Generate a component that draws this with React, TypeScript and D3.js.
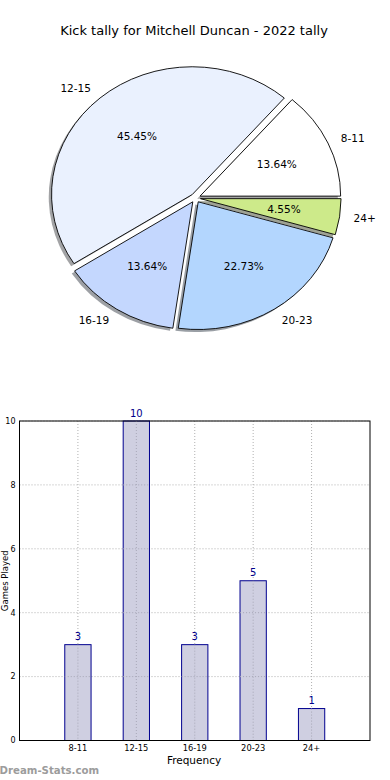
import { useEffect, useRef } from "react";
import * as d3 from "d3";

const categories = ["8-11", "12-15", "16-19", "20-23", "24+"];
const counts = [3, 10, 3, 5, 1];
const pieColors = ["#ffffff", "#eaf1fe", "#c4d7fe", "#b3d6fe", "#cdea8a"];
const yTicks = [0, 2, 4, 6, 8, 10];

const W = 390;
const H = 780;
const font = "DejaVu Sans, sans-serif";

function App() {
  const svgRef = useRef<SVGSVGElement>(null);

  useEffect(() => {
    const svg = d3.select(svgRef.current);
    svg.selectAll("*").remove();

    svg
      .append("text")
      .attr("x", 194)
      .attr("y", 34.5)
      .attr("text-anchor", "middle")
      .style("font", `13px ${font}`)
      .text("Kick tally for Mitchell Duncan - 2022 tally");

    // pie (elliptical, like an old matplotlib pie without equal aspect)
    const cx = 195.5;
    const cy = 198;
    const rx = 140.6;
    const ry = 127.7;
    const explode = 0.0356;
    const total = d3.sum(counts);

    const pie = d3
      .pie<number>()
      .sort(null)
      .startAngle(Math.PI / 2)
      .endAngle(Math.PI / 2 - 2 * Math.PI);
    const arcs = pie(counts);
    const arc = d3.arc<d3.PieArcDatum<number>>().innerRadius(0).outerRadius(1);

    const slices = arcs.map((d, i) => {
      const mid = (d.startAngle + d.endAngle) / 2;
      const ux = Math.sin(mid);
      const uy = -Math.cos(mid);
      return { d, i, ux, uy, ox: explode * ux, oy: explode * uy };
    });

    const gPie = svg.append("g").attr("transform", `translate(${cx},${cy}) scale(${rx},${ry})`);

    // shadows first
    gPie
      .selectAll("path.shadow")
      .data(slices)
      .join("path")
      .attr("class", "shadow")
      .attr("transform", (s) => `translate(${s.ox - 0.02},${s.oy + 0.02})`)
      .attr("d", (s) => arc(s.d))
      .attr("fill", (s) => {
        const c = d3.rgb(pieColors[s.i]);
        return d3.rgb(c.r * 0.3, c.g * 0.3, c.b * 0.3).toString();
      })
      .attr("fill-opacity", 0.5);

    gPie
      .selectAll("path.wedge")
      .data(slices)
      .join("path")
      .attr("class", "wedge")
      .attr("transform", (s) => `translate(${s.ox},${s.oy})`)
      .attr("d", (s) => arc(s.d))
      .attr("fill", (s) => pieColors[s.i])
      .attr("stroke", "#000")
      .attr("stroke-width", 0.9)
      .attr("vector-effect", "non-scaling-stroke");

    slices.forEach((s) => {
      const px = cx + rx * s.ox;
      const py = cy + ry * s.oy;
      svg
        .append("text")
        .attr("x", px + 1.1 * rx * s.ux)
        .attr("y", py + 1.1 * ry * s.uy)
        .attr("dy", "0.36em")
        .attr("text-anchor", s.ux > 0 ? "start" : "end")
        .style("font", `10.5px ${font}`)
        .text(categories[s.i]);
      svg
        .append("text")
        .attr("x", px + 0.6 * rx * s.ux)
        .attr("y", py + 0.6 * ry * s.uy)
        .attr("dy", "0.36em")
        .attr("text-anchor", "middle")
        .style("font", `10.5px ${font}`)
        .text(((counts[s.i] / total) * 100).toFixed(2) + "%");
    });

    // bar chart
    const left = 19.5;
    const right = 370;
    const top = 421;
    const bottom = 740.5;
    const x = d3.scaleLinear().domain([0, 6]).range([left, right]);
    const y = d3.scaleLinear().domain([0, 10]).range([bottom, top]);
    const barW = 0.45;

    const grid = svg.append("g").attr("stroke", "#b0b0b0").attr("stroke-dasharray", "1,2");
    yTicks.forEach((t) => {
      grid.append("line").attr("x1", left).attr("x2", right).attr("y1", y(t)).attr("y2", y(t));
    });
    categories.forEach((c, i) => {
      grid.append("line").attr("x1", x(i + 1)).attr("x2", x(i + 1)).attr("y1", top).attr("y2", bottom);
    });

    svg
      .append("g")
      .selectAll("rect")
      .data(counts)
      .join("rect")
      .attr("x", (v, i) => x(i + 1 - barW / 2))
      .attr("width", x(barW) - x(0))
      .attr("y", (v) => y(v))
      .attr("height", (v) => y(0) - y(v))
      .attr("fill", "#ccccdf")
      .attr("fill-opacity", 0.95)
      .attr("stroke", "#00008f")
      .attr("stroke-width", 1);

    // grid shows through the bars
    const grid2 = svg.append("g").attr("stroke", "#a8a8b8").attr("stroke-dasharray", "1,2");
    categories.forEach((c, i) => {
      grid2.append("line").attr("x1", x(i + 1)).attr("x2", x(i + 1)).attr("y1", y(counts[i])).attr("y2", bottom);
    });
    yTicks.forEach((t) => {
      counts.forEach((v, i) => {
        if (t > 0 && t < v) {
          grid2
            .append("line")
            .attr("x1", x(i + 1 - barW / 2))
            .attr("x2", x(i + 1 + barW / 2))
            .attr("y1", y(t))
            .attr("y2", y(t));
        }
      });
    });

    svg
      .append("g")
      .selectAll("text")
      .data(counts)
      .join("text")
      .attr("x", (v, i) => x(i + 1))
      .attr("y", (v) => y(v) - 4.5)
      .attr("text-anchor", "middle")
      .attr("fill", "#00008b")
      .style("font", `10px ${font}`)
      .text((v) => v);

    svg
      .append("rect")
      .attr("x", left)
      .attr("y", top)
      .attr("width", right - left)
      .attr("height", bottom - top)
      .attr("fill", "none")
      .attr("stroke", "#000")
      .attr("stroke-width", 1);

    svg
      .append("g")
      .selectAll("text")
      .data(yTicks)
      .join("text")
      .attr("x", 15.5)
      .attr("y", (t) => y(t))
      .attr("dy", "0.36em")
      .attr("text-anchor", "end")
      .style("font", `8px ${font}`)
      .text((t) => t);

    svg
      .append("g")
      .selectAll("text")
      .data(categories)
      .join("text")
      .attr("x", (c, i) => x(i + 1))
      .attr("y", 751)
      .attr("text-anchor", "middle")
      .style("font", `8.3px ${font}`)
      .text((c) => c);

    svg
      .append("text")
      .attr("x", 194)
      .attr("y", 764)
      .attr("text-anchor", "middle")
      .style("font", `10.5px ${font}`)
      .text("Frequency");

    // y label sits at the very edge, kept inside the view
    svg
      .append("text")
      .attr("transform", `translate(8,${(top + bottom) / 2}) rotate(-90)`)
      .attr("text-anchor", "middle")
      .style("font", `8.5px ${font}`)
      .text("Games Played");

    svg
      .append("text")
      .attr("x", -0.5)
      .attr("y", 774)
      .attr("fill", "#9c9c9c")
      .style("font", `bold 10.2px ${font}`)
      .text("Dream-Stats.com");
  }, []);

  return (
    <svg
      ref={svgRef}
      width={W}
      height={H}
      style={{ position: "absolute", left: 0, top: 0, background: "#fff" }}
    />
  );
}

export default App;
